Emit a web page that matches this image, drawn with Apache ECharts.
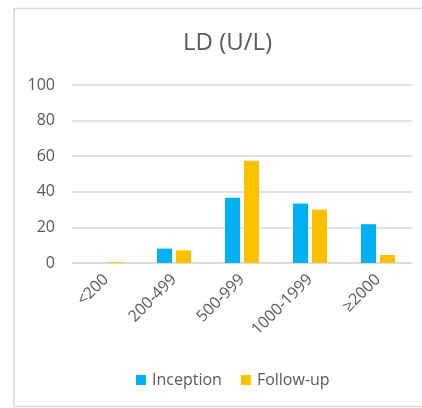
<!DOCTYPE html>
<html>
<head>
<meta charset="utf-8">
<script src="https://cdn.jsdelivr.net/npm/echarts@6/dist/echarts.min.js"></script>
<style>
  html, body { margin: 0; padding: 0; background: #fff; }
  #chart { width: 422px; height: 408px; }
</style>
</head>
<body>
<div id="chart"></div>
<script>
// LD ranges (U/L) and share of patients in each range (%)
const categories = ['<200', '200-499', '500-999', '1000-1999', '≥2000'];
const inception = [0, 8.1, 36.6, 33.4, 21.8];
const followUp = [0.5, 7.1, 57.4, 30.0, 4.5];
const yTicks = [0, 20, 40, 60, 80, 100];

const FONT = '"Open Sans", "Noto Sans", sans-serif';
const TEXT = '#595959';

const chart = echarts.init(document.getElementById('chart'), null, { renderer: 'canvas' });
chart.setOption({
  animation: false,
  backgroundColor: '#fff',
  title: {
    text: 'LD (U/L)',
    left: 178,
    top: 26,
    textStyle: { fontFamily: FONT, fontSize: 24, fontWeight: 'normal', color: TEXT }
  },
  graphic: [{
    type: 'rect',
    shape: { x: 14, y: 8.5, width: 420, height: 398 },
    style: { fill: 'none', stroke: '#d9d9d9', lineWidth: 1.5 },
    silent: true
  }],
  legend: {
    top: 367,
    left: 131,
    itemWidth: 10,
    itemHeight: 10,
    itemGap: 19,
    icon: 'rect',
    textStyle: { fontFamily: FONT, fontSize: 16, color: TEXT, padding: [0, 0, 0, 1] },
    data: ['Inception', 'Follow-up']
  },
  grid: { left: 72, right: 10, top: 85, bottom: 145 },
  xAxis: {
    type: 'category',
    data: categories,
    axisLine: { lineStyle: { color: '#d9d9d9', width: 1.5 } },
    axisTick: { show: false },
    axisLabel: {
      rotate: 45,
      margin: 14,
      interval: 0,
      fontFamily: FONT,
      fontSize: 16,
      color: TEXT
    }
  },
  yAxis: {
    type: 'value',
    min: yTicks[0],
    max: yTicks[yTicks.length - 1],
    interval: yTicks[1] - yTicks[0],
    axisLine: { show: false },
    axisTick: { show: false },
    splitLine: { lineStyle: { color: '#d9d9d9', width: 1.5 } },
    axisLabel: { margin: 17, fontFamily: FONT, fontSize: 16, color: TEXT }
  },
  series: [
    {
      name: 'Inception',
      type: 'bar',
      data: inception,
      barWidth: 15,
      barGap: '27%',
      itemStyle: { color: '#00B0F0' }
    },
    {
      name: 'Follow-up',
      type: 'bar',
      data: followUp,
      barWidth: 15,
      barGap: '27%',
      itemStyle: { color: '#FFC000' }
    }
  ]
});
</script>
</body>
</html>
